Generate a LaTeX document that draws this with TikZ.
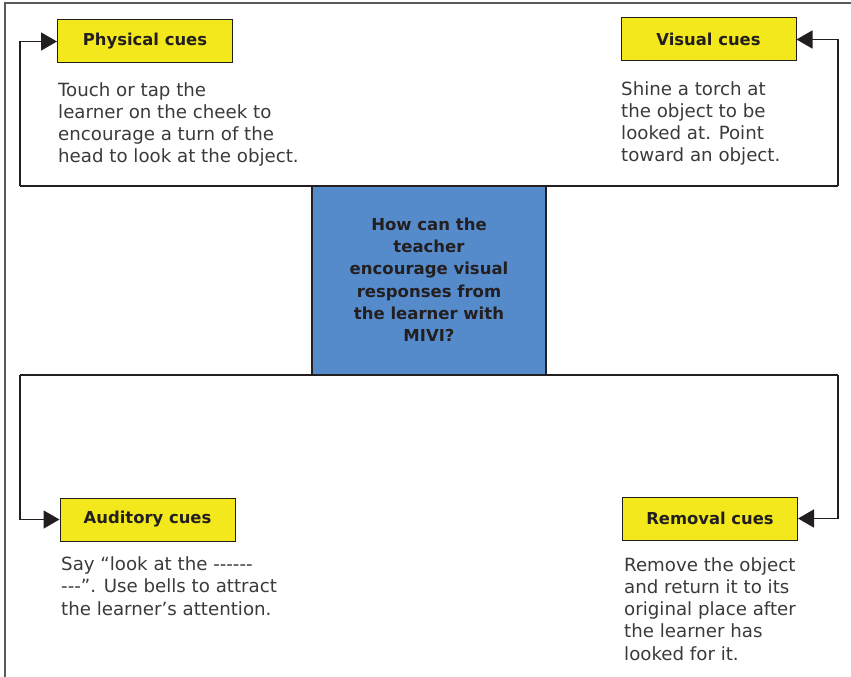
\documentclass[tikz,border=0pt]{standalone}
\usepackage{fontspec}
\setmainfont{DejaVu Sans}
\usetikzlibrary{arrows.meta}
\definecolor{cueyellow}{HTML}{F2E81C}
\definecolor{qblue}{HTML}{568BCB}
\definecolor{ink}{HTML}{231F20}
\definecolor{bodyink}{HTML}{3A3A3A}
\newcommand\hyph{-\kern0pt}
\begin{document}
\begin{tikzpicture}[x=1pt,y=-1pt,
  cuebox/.style={draw=ink,line width=1pt,fill=cueyellow,minimum width=175pt,minimum height=43pt,inner sep=0pt,
    text=ink,font=\fontsize{16.4}{18}\selectfont\bfseries},
  bodytext/.style={anchor=base west,align=left,inner sep=0pt,text=bodyink,font=\fontsize{18.2}{22.1}\selectfont},
  conn/.style={draw=ink,line width=1.6pt},
  tip/.style={-{Triangle[length=16pt,width=18pt]}}]
\useasboundingbox (0,0) rectangle (851,677);
% frame
\draw[draw=black!65,line width=1.2pt] (5,677) -- (5,3) -- (851,3);
% central question
\node[draw=ink,line width=1.2pt,fill=qblue,minimum width=234pt,minimum height=188pt,inner sep=0pt] (q) at (429,280.5) {};
\node[anchor=base,align=center,inner sep=0pt,text=ink,font=\fontsize{16.5}{22.3}\selectfont\bfseries] (qt) at (429,341.7)
  {How can the\\teacher\\encourage visual\\responses from\\the learner with\\MIVI?};
% cue boxes
\node[cuebox] (phys) at (145,41.5) {Physical cues};
\node[cuebox] (vis) at (708.5,39.5) {Visual cues};
\node[cuebox] (aud) at (147.5,519.5) {Auditory cues};
\node[cuebox] (rem) at (710,518.5) {Removal cues};
% body texts (anchored at the baseline of their last line)
\node[bodytext] (physt) at (58,162.7) {Touch or tap the\\learner on the cheek to\\encourage a turn of the\\head to look at the object.};
\node[bodytext] (vist) at (621,161.7) {Shine a torch at\\the object to be\\looked at. Point\\toward an object.};
\node[bodytext] (audt) at (61,615) {Say “look at the \hyph\hyph\hyph\hyph\hyph\hyph\\\hyph\hyph\hyph”. Use bells to attract\\the learner’s attention.};
\node[bodytext] (remt) at (624,660) {Remove the object\\and return it to its\\original place after\\the learner has\\looked for it.};
% connectors
\coordinate (tl) at (20,186);
\coordinate (tr) at (838,186);
\coordinate (bl) at (20,375);
\coordinate (br) at (838,375);
\draw[conn] (tl) -- (tr);
\draw[conn] (bl) -- (br);
\draw[conn,tip] (tl) |- (phys.west);
\draw[conn,tip] (tr) |- (vis.east);
\draw[conn,tip] (bl) |- (aud.west);
\draw[conn,tip] (br) |- (rem.east);
\end{tikzpicture}
\end{document}
